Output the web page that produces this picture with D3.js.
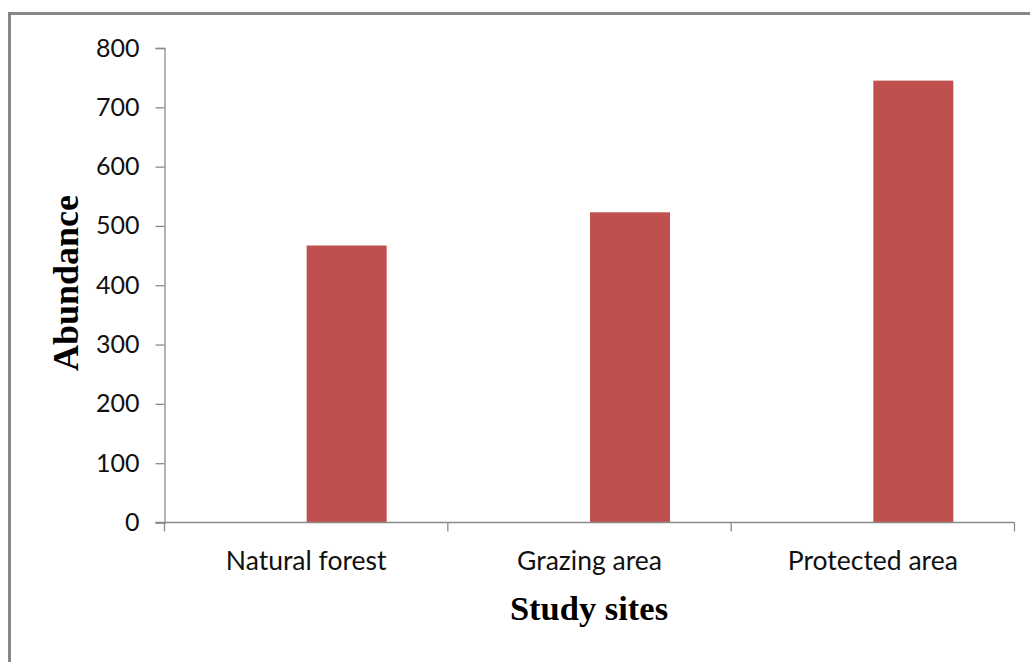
<!DOCTYPE html>
<html>
<head>
<meta charset="utf-8">
<script src="https://cdn.jsdelivr.net/npm/d3@7"></script>
<style>
  html, body { margin: 0; padding: 0; background: #fff; }
  svg { display: block; }
</style>
</head>
<body>
<svg id="chart" width="1030" height="662"></svg>
<script>
// Abundance by study site
const sites = ["Natural forest", "Grazing area", "Protected area"];
const abundance = [467, 523, 745];
const yTicks = [0, 100, 200, 300, 400, 500, 600, 700, 800];

const svg = d3.select("#chart");
const W = 1030, H = 662;
const plot = { left: 164.5, right: 1014.5, top: 48, bottom: 522.5 };

// outer frame
svg.append("rect")
  .attr("x", 9.5).attr("y", 13.5)
  .attr("width", W + 20).attr("height", H + 20)
  .attr("fill", "#fff").attr("stroke", "#878787").attr("stroke-width", 3);

const x = d3.scaleBand().domain(sites).range([plot.left, plot.right]);
const y = d3.scaleLinear().domain([0, 800]).range([plot.bottom, plot.top]);

const axisColor = "#8a8a8a";
const tickFont = "Lato, 'Open Sans', sans-serif";

// y axis
const yAxis = svg.append("g")
  .attr("transform", `translate(${plot.left},0)`)
  .call(d3.axisLeft(y).tickValues(yTicks).tickSize(9).tickPadding(16).tickFormat(d3.format("d")));
yAxis.select(".domain").attr("stroke", axisColor).attr("stroke-width", 1.3);
yAxis.selectAll(".tick line").attr("stroke", axisColor).attr("stroke-width", 1.3);
yAxis.selectAll(".tick text")
  .attr("fill", "#111").style("font-family", tickFont).style("font-size", "25px");

// bars: each sits in the right half of its category band
svg.append("g").selectAll("rect")
  .data(sites.map((s, i) => ({ site: s, value: abundance[i] })))
  .join("rect")
  .attr("x", d => x(d.site) + x.bandwidth() / 2 + 0.5)
  .attr("y", d => y(d.value))
  .attr("width", 80)
  .attr("height", d => y(0) - y(d.value))
  .attr("fill", "#c0504d");

// x axis with tick marks at band boundaries
const xg = svg.append("g").attr("transform", `translate(0,${plot.bottom})`);
xg.append("line")
  .attr("x1", plot.left - 9).attr("x2", plot.right)
  .attr("stroke", axisColor).attr("stroke-width", 1.3);
const boundaries = sites.map(s => x(s)).concat([plot.right]);
xg.selectAll("line.tk").data(boundaries).join("line")
  .attr("class", "tk")
  .attr("x1", d => d).attr("x2", d => d)
  .attr("y1", 0).attr("y2", 9)
  .attr("stroke", axisColor).attr("stroke-width", 1.3);
xg.selectAll("text").data(sites).join("text")
  .attr("x", d => x(d) + x.bandwidth() / 2)
  .attr("y", 47)
  .attr("text-anchor", "middle")
  .attr("fill", "#111")
  .style("font-family", tickFont).style("font-size", "26.5px")
  .text(d => d);

// axis titles
svg.append("text")
  .attr("transform", `translate(78,283) rotate(-90)`)
  .attr("text-anchor", "middle")
  .style("font-family", "'Liberation Serif', 'Times New Roman', serif")
  .style("font-weight", "bold").style("font-size", "36px")
  .text("Abundance");

svg.append("text")
  .attr("x", 589).attr("y", 620)
  .attr("text-anchor", "middle")
  .style("font-family", "'Liberation Serif', 'Times New Roman', serif")
  .style("font-weight", "bold").style("font-size", "34.5px")
  .text("Study sites");
</script>
</body>
</html>
